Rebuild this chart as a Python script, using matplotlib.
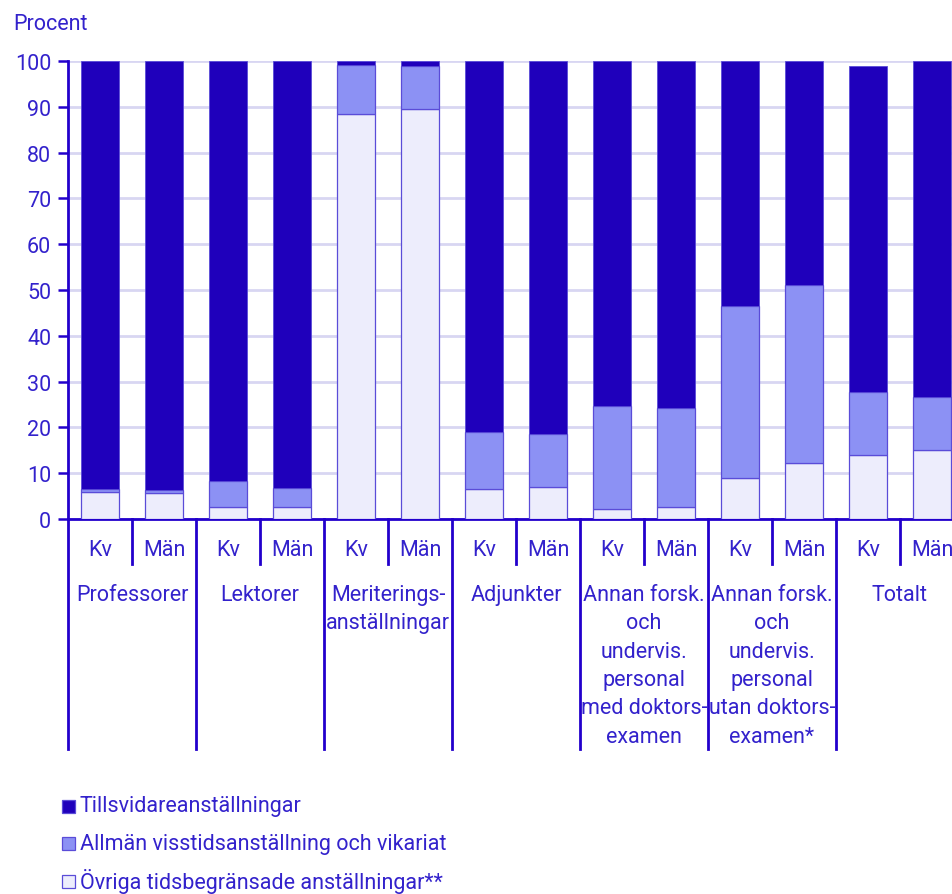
import matplotlib
matplotlib.use('Agg')
import matplotlib.pyplot as plt
import matplotlib.transforms as mtransforms
from matplotlib.patches import Rectangle
import numpy as np

plt.rcParams['font.family'] = ['Roboto', 'DejaVu Sans']

groups = ['Professorer', 'Lektorer', 'Meriterings-\nanställningar', 'Adjunkter',
          'Annan forsk.\noch\nundervis.\npersonal\nmed doktors-\nexamen',
          'Annan forsk.\noch\nundervis.\npersonal\nutan doktors-\nexamen*',
          'Totalt']
sexes = ['Kv', 'Män']

# percent, order: Kv, Män per group
ovriga = [5.8, 5.7, 2.6, 2.6, 88.5, 89.5, 6.5, 7.0, 2.2, 2.7, 8.9, 12.3, 13.9, 15.0]
allman = [0.7, 0.7, 5.6, 4.2, 10.7, 9.5, 12.5, 11.6, 22.5, 21.5, 37.6, 38.7, 13.8, 11.6]
tillsvidare = [93.5, 93.6, 91.8, 93.2, 0.8, 1.0, 81.0, 81.4, 75.3, 75.8, 53.5, 49.0, 71.3, 73.4]

series_names = ['Tillsvidareanställningar',
                'Allmän visstidsanställning och vikariat',
                'Övriga tidsbegränsade anställningar**']

c_dark = '#1f00bb'
c_mid = '#8c91f4'
c_light = '#ededfc'
c_edge = '#5a4cd8'
c_text = '#3322cc'
c_axis = '#2200cc'
c_grid = '#d8d6f2'
fs = 15.5

W, H = 953, 895
fig = plt.figure(figsize=(W / 100, H / 100), dpi=100)
ax = fig.add_axes([68 / W, (H - 520) / H, 896 / W, 458 / H])

x = np.arange(len(ovriga))
bw = 0.58
ovr = np.array(ovriga)
allm = np.array(allman)
tills = np.array(tillsvidare)
ax.bar(x, ovr, bw, color=c_light, edgecolor=c_edge, linewidth=0.9, zorder=3)
ax.bar(x, allm, bw, bottom=ovr, color=c_mid, edgecolor=c_edge, linewidth=0.9, zorder=3)
ax.bar(x, tills, bw, bottom=ovr + allm, color=c_dark, edgecolor=c_edge, linewidth=0.6, zorder=3)

ax.set_xlim(-0.5, len(ovriga) - 0.5)
ax.set_ylim(0, 100)
ax.set_yticks(np.arange(0, 101, 10))
ax.yaxis.grid(True, color=c_grid, linewidth=2, zorder=0)
ax.set_axisbelow(True)
ax.tick_params(axis='y', colors=c_axis, labelcolor=c_text, labelsize=fs,
               length=7, width=1.8, pad=5)
ax.set_xticks([])
for s in ['top', 'right']:
    ax.spines[s].set_visible(False)
for s in ['left', 'bottom']:
    ax.spines[s].set_color(c_axis)
    ax.spines[s].set_linewidth(2)

trans = mtransforms.blended_transform_factory(ax.transData, ax.transAxes)
px = 1 / 458
# separators
for i in range(len(groups) + 1):
    xs = 2 * i - 0.5
    ax.plot([xs, xs], [0, -230 * px], color=c_axis, lw=2, transform=trans, clip_on=False)
for i in range(len(groups)):
    xs = 2 * i + 0.5
    ax.plot([xs, xs], [0, -45 * px], color=c_axis, lw=2, transform=trans, clip_on=False)
for i in x:
    ax.text(i, -30 * px, sexes[i % 2], transform=trans, ha='center', va='center',
            fontsize=fs, color=c_text)
for i, g in enumerate(groups):
    ax.text(2 * i + 0.5, -65 * px, g, transform=trans, ha='center', va='top',
            fontsize=fs, color=c_text, linespacing=1.46)

fig.text(13 / W, 1 - 24 / H, 'Procent', fontsize=fs, color=c_text, va='center', ha='left')

# legend
for k, (name, col) in enumerate(zip(series_names, [c_dark, c_mid, c_light])):
    yc = 807 + 37.5 * k
    fig.patches.append(Rectangle((62 / W, 1 - (yc + 6.5) / H), 13 / W, 13 / H,
                                 transform=fig.transFigure, facecolor=col,
                                 edgecolor=c_edge, linewidth=0.9))
    fig.text(80 / W, 1 - yc / H, name, fontsize=fs, color=c_text, va='center', ha='left')

fig.savefig('out.png', dpi=100)
